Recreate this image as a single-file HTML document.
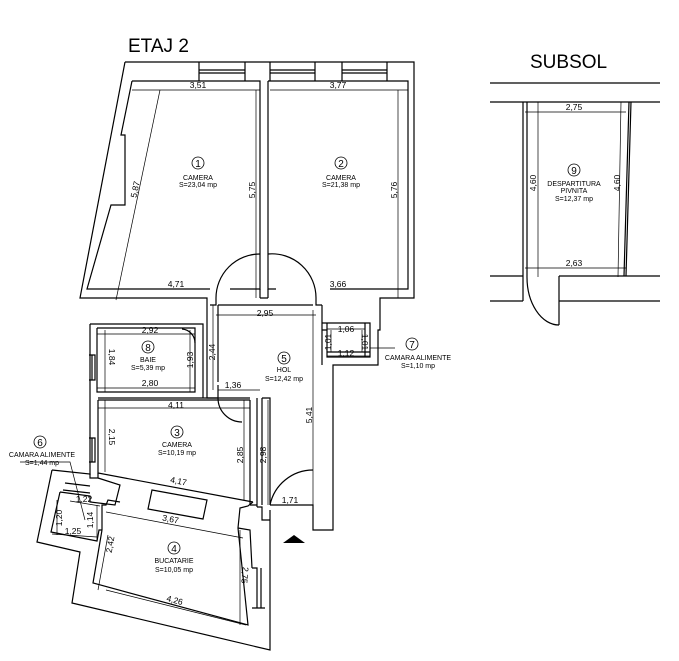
<!DOCTYPE html>
<html><head><style>
body{margin:0;background:#fff;width:679px;height:661px;overflow:hidden}
svg{display:block}
text{font-family:"Liberation Sans",sans-serif;fill:#000}
</style></head><body>
<svg width="679" height="661" viewBox="0 0 679 661" xmlns="http://www.w3.org/2000/svg">
<g fill="none" stroke="#000" stroke-width="1.2">
<!-- outer main -->
<path d="M125,62 L414,62 L414,298 L380,298 L380,330 L378,330 L378,365 L333,365 L333,530 L313,530 L313,505 L270,505"/>
<path d="M125,62 L80,298 L207,298 L207,305"/>
<!-- room1 inner -->
<path d="M132,81 L260,81 L260,289 L230,289"/>
<path d="M132,81 L121,135 L125,135 L125,205 L111,205 L87,289 L210,289"/>
<!-- room2 inner -->
<path d="M268,81 L408,81 L408,289 L330,289"/>
<path d="M268,81 L268,289 L276,289"/>
<path d="M260,289 L260,298 M268,289 L268,298 M260,298 L268,298"/>
<!-- windows -->
<path d="M199,62 L199,81 M245,62 L245,81 M199,70 L245,70 M199,73 L245,73"/>
<path d="M270,62 L270,81 M315,62 L315,81 M270,70 L315,70 M270,73 L315,73"/>
<path d="M342,62 L342,81 M387,62 L387,81 M342,70 L387,70 M342,73 L387,73"/>
<!-- doors rooms 1,2 -->
<path d="M216,298 A44,44 0 0 1 260,254"/>
<path d="M268,254 A44,44 0 0 1 316,298"/>
<path d="M216,298 L216,305 L210,305 M316,298 L316,305 L322,305"/>
<!-- hol -->
<path d="M218,305 L313,305 M322,305 L322,365"/>
<path d="M207,305 L207,398 L218,398 L218,385 M218,305 L218,382"/>
<!-- camara 7 -->
<path d="M322,323 L370,323 L370,357 L327,357 L327,323 M322,330 L327,330 M327,352 L370,352 M365,323 L365,357"/>
<!-- baie -->
<path d="M90,324 L203,324 L203,398 M97,328 L195,328 L195,392 L97,392 L97,328 M90,324 L90,475"/>
<path d="M89,355 L95,355 L95,380 L89,380 M89,438 L95,438 L95,462 L89,462 M92,355 L92,380 M92,438 L92,462"/>
<path d="M182,329 A14,14 0 0 1 195,343"/>
<!-- camera 3 -->
<path d="M98,398 L250,398 M98,400 L98,473 L253,502 M98,400 L250,400"/>
<path d="M250,400 L250,505 M257,398 L257,507 M250,505 L257,505"/>
<path d="M218,398 A24,24 0 0 0 242,422"/>
<path d="M262,398 L262,505 M262,398 L270,398 L270,505"/>
<!-- hol bottom door -->
<path d="M270,505 A44,44 0 0 1 313,470"/>
<!-- kitchen / camara 6 -->
<path d="M52,470 L90,474 L90,478 L98,478 L98,473"/>
<path d="M52,470 L37,542 L80,552 L72,603 L270,650 L270,510"/>
<path d="M65,483 L90,486 M63,490 L90,493 M60,492 L90,496 L90,502 L115,505 L120,485 L98,478"/>
<path d="M60,492 L51,532 L97,541 L99,530 L102,530"/>
<path d="M120,502 L108,500 L106,505 L102,505 L102,530"/>
<path d="M102,530 L93,583 L248,625 L238,528 L240,508 L248,506 L253,502"/>
<path d="M152,490 L207,500 L203,519 L148,509 Z"/>
<path d="M238,528 L250,530 L252,568 M252,568 L257,568 L257,608 M261,568 L261,608 M252,608 L265,608"/>
<path d="M257,507 L262,507 L262,520 L270,520"/>
</g>
<!-- dimension lines -->
<g fill="none" stroke="#000" stroke-width="0.7">
<path d="M132,90 L260,90 M270,90 L408,90 M87,289 L210,289 M330,289 L408,289"/>
<path d="M160,90 L116,300 M256,90 L256,298 M398,90 L398,298"/>
<path d="M216,315 L316,315 M97,334 L195,334 M97,388 L195,388 M98,408 L250,408"/>
<path d="M105,330 L105,392 M190,330 L190,392 M213,305 L213,390 M313,310 L313,505"/>
<path d="M105,400 L105,472 M244,400 L244,500 M268,400 L268,505"/>
<path d="M218,390 L260,390 M270,505 L313,505"/>
<path d="M106,512 L243,538 M106,590 L246,625 M108,535 L98,590 M240,530 L240,625"/>
<path d="M327,356 L370,356 M327,329 L365,329 M331,330 L331,352 M362,330 L362,352"/>
<path d="M20,462 L70,462 L85,520 M370,348 L395,348"/>
<path d="M57,500 L57,535 M52,534 L97,537 M70,501 L100,506 M97,505 L97,540"/>
</g>
<!-- compass -->
<polygon points="283,543 294,535 305,543" fill="#000"/>
<!-- labels -->
<text x="128" y="52" font-size="19">ETAJ 2</text>
<text x="530" y="68" font-size="19">SUBSOL</text>
<g font-size="8.5" text-anchor="middle">
<text x="198" y="88">3,51</text><text x="338" y="88">3,77</text>
<text x="176" y="287">4,71</text><text x="338" y="287">3,66</text>
<text x="265" y="316">2,95</text><text x="150" y="333">2,92</text>
<text x="150" y="386">2,80</text><text x="176" y="408">4,11</text>
<text x="233" y="388">1,36</text><text x="290" y="503">1,71</text>
<text x="178" y="484" transform="rotate(11 178 484)">4,17</text>
<text x="170" y="522" transform="rotate(11 170 522)">3,67</text>
<text x="174" y="603" transform="rotate(15 174 603)">4,26</text>
<text x="346" y="332">1,06</text><text x="346" y="356">1,12</text>
<text x="73" y="534">1,25</text><text x="84" y="502">1,22</text>
<text transform="translate(138,190) rotate(-78)">5,87</text>
<text transform="translate(255,190) rotate(-90)">5,75</text>
<text transform="translate(397,190) rotate(-90)">5,76</text>
<text transform="translate(109,357) rotate(90)">1,84</text>
<text transform="translate(193,360) rotate(-90)">1,93</text>
<text transform="translate(215,352) rotate(-90)">2,44</text>
<text transform="translate(312,415) rotate(-90)">5,41</text>
<text transform="translate(109,437) rotate(90)">2,15</text>
<text transform="translate(243,455) rotate(-90)">2,85</text>
<text transform="translate(266,455) rotate(-90)">2,98</text>
<text transform="translate(331,342) rotate(-90)">1,01</text>
<text transform="translate(362,342) rotate(90)">1,01</text>
<text transform="translate(62,518) rotate(-90)">1,20</text>
<text transform="translate(93,520) rotate(-90)">1,14</text>
<text transform="translate(113,545) rotate(-80)">2,42</text>
<text transform="translate(242,575) rotate(95)">2,75</text>
<text transform="translate(536,183) rotate(-90)">4,60</text>
<text transform="translate(620,183) rotate(-90)">4,60</text>
<text x="574" y="110">2,75</text><text x="574" y="266">2,63</text>
</g>
<g font-size="7" text-anchor="middle">
<text x="198" y="180">CAMERA</text><text x="198" y="187">S=23,04 mp</text>
<text x="341" y="180">CAMERA</text><text x="341" y="187">S=21,38 mp</text>
<text x="148" y="362">BAIE</text><text x="148" y="370">S=5,39 mp</text>
<text x="284" y="372">HOL</text><text x="284" y="381">S=12,42 mp</text>
<text x="177" y="447">CAMERA</text><text x="177" y="455">S=10,19 mp</text>
<text x="174" y="563">BUCATARIE</text><text x="174" y="572">S=10,05 mp</text>
<text x="42" y="457">CAMARA ALIMENTE</text><text x="42" y="465">S=1,44 mp</text>
<text x="418" y="360">CAMARA ALIMENTE</text><text x="418" y="368">S=1,10 mp</text>
<text x="574" y="186">DESPARTITURA</text><text x="574" y="193">PIVNITA</text><text x="574" y="201">S=12,37 mp</text>
</g>
<g fill="none" stroke="#000" stroke-width="0.8">
<circle cx="198" cy="163" r="6"/><circle cx="341" cy="163" r="6"/><circle cx="148" cy="347" r="6"/>
<circle cx="284" cy="358" r="6"/><circle cx="177" cy="432" r="6"/><circle cx="174" cy="548" r="6"/>
<circle cx="40" cy="442" r="6"/><circle cx="412" cy="344" r="6"/><circle cx="574" cy="170" r="6"/>
</g>
<g font-size="10" text-anchor="middle">
<text x="198" y="167">1</text><text x="341" y="167">2</text><text x="148" y="351">8</text>
<text x="284" y="362">5</text><text x="177" y="436">3</text><text x="174" y="552">4</text>
<text x="40" y="446">6</text><text x="412" y="348">7</text><text x="574" y="174">9</text>
</g>
<!-- subsol -->
<g fill="none" stroke="#000" stroke-width="1.2">
<path d="M490,83 L660,83 M490,102 L660,102 M490,276 L523,276 M559,276 L660,276 M490,301 L523,301 M559,301 L660,301"/>
<path d="M523,102 L523,301 M527,102 L527,276 M559,276 L559,325 M527,276 A32,48 0 0 0 559,325"/>
<path d="M629,102 L624,276 M631,102 L626,276"/>
</g>
<g fill="none" stroke="#000" stroke-width="0.7">
<path d="M525,112 L626,112 M525,268 L626,268 M538,102 L538,277 M621,102 L618,277"/>
</g>
</svg>
</body></html>
